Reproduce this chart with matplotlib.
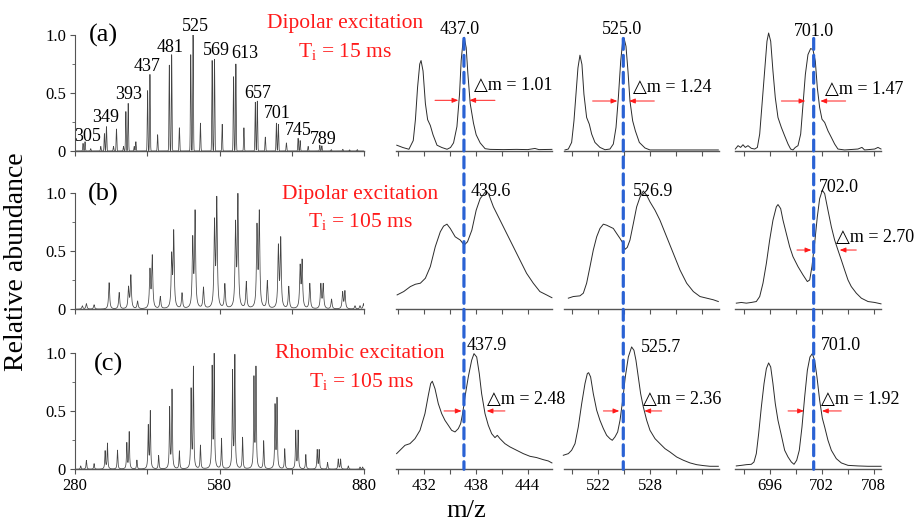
import numpy as np
import matplotlib
matplotlib.use("Agg")
import matplotlib.pyplot as plt
from matplotlib.patches import ConnectionPatch

plt.rcParams["font.family"] = ["Liberation Serif", "DejaVu Sans"]
plt.rcParams["mathtext.fontset"] = "custom"
plt.rcParams["mathtext.rm"] = "Liberation Serif"
plt.rcParams["mathtext.it"] = "Liberation Serif:italic"

W, H = 920, 522

# ---- full spectra: peak m/z and relative height ----
peaks_a_mz = [296.7, 300.8, 312.6, 333.5, 341.1, 345.3, 359.9, 366.1, 380.7, 385.6,
              390.4, 402.9, 406.4, 430.7, 435.6, 451.5, 475.8, 480.7, 496.7, 520.3,
              525.1, 540.4, 564.7, 569.6, 585.6, 609.2, 614.0, 630.7, 654.3, 658.5,
              675.1, 698.1, 702.2, 718.9, 743.2, 747.4, 764.0, 788.3, 792.5, 812.0,
              836.0, 850.0, 866.0]
peaks_a_h = [0.066, 0.08, 0.02, 0.04, 0.15, 0.21, 0.04, 0.19, 0.04, 0.34,
             0.41, 0.04, 0.08, 0.52, 0.66, 0.14, 0.74, 0.83, 0.2, 0.83,
             1.0, 0.24, 0.78, 0.79, 0.23, 0.64, 0.75, 0.2, 0.42, 0.43,
             0.12, 0.24, 0.23, 0.07, 0.11, 0.09, 0.04, 0.05, 0.045, 0.012,
             0.015, 0.01, 0.012]
peaks_b_mz = [295.3, 303.6, 319.6, 350.8, 371.7, 391.1, 396.0, 409.9, 435.6, 440.4,
              457.1, 480.7, 484.9, 502.2, 524.4, 529.3, 546.7, 569.6, 574.4, 591.1,
              613.3, 618.2, 635.6, 657.8, 662.6, 679.3, 702.2, 707.1, 723.8, 747.4,
              751.5, 767.5, 790.4, 795.3, 812.6, 835.6, 840.4, 861.3, 871.7, 879.0]
peaks_b_h = [0.03, 0.05, 0.04, 0.24, 0.15, 0.19, 0.3, 0.07, 0.34, 0.47,
             0.11, 0.46, 0.68, 0.14, 0.61, 0.86, 0.19, 0.76, 0.97, 0.22,
             0.74, 1.0, 0.24, 0.72, 0.85, 0.25, 0.55, 0.62, 0.2, 0.37,
             0.42, 0.23, 0.22, 0.22, 0.09, 0.15, 0.16, 0.03, 0.03, 0.05]
peaks_c_mz = [291.8, 303.6, 319.6, 342.5, 347.4, 368.2, 387.6, 392.5, 408.5, 432.1,
              436.3, 453.6, 476.5, 481.4, 496.7, 521.0, 525.8, 540.4, 564.7, 568.9,
              584.2, 607.1, 611.9, 627.9, 651.5, 655.7, 671.7, 695.3, 699.4, 715.4,
              738.3, 743.2, 759.2, 782.8, 786.9, 804.3, 826.5, 831.4, 847.4, 871.7,
              877.2]
peaks_c_h = [0.03, 0.08, 0.05, 0.16, 0.23, 0.17, 0.23, 0.33, 0.08, 0.38,
             0.51, 0.12, 0.54, 0.7, 0.16, 0.7, 0.9, 0.21, 0.89, 1.0,
             0.27, 0.86, 1.0, 0.28, 0.8, 0.89, 0.25, 0.56, 0.62, 0.18,
             0.34, 0.34, 0.13, 0.17, 0.17, 0.06, 0.09, 0.09, 0.03, 0.02,
             0.02]

# peak labels on spectrum (a)
series_labels = ["305", "349", "393", "437", "481", "525", "569", "613", "657", "701", "745", "789"]
series_label_x = [307, 344.6, 390.4, 430, 478, 530, 573.7, 632, 659, 700.8, 744.6, 794.6]
series_label_y = [0.129, 0.291, 0.488, 0.728, 0.891, 1.071, 0.865, 0.84, 0.497, 0.326, 0.18, 0.103]

# ---- zoomed traces (rows a, b, c; columns 437, 525, 701) ----
a1_mz = [428.9, 429.6, 430.3, 430.8, 431.05, 431.3, 431.55, 431.7, 431.93, 432.2,
         432.46, 432.77, 433.08, 433.54, 434.1, 434.7, 435.1, 435.45, 435.84, 436.14,
         436.33, 436.55, 436.68, 436.91, 437.1, 437.37, 437.75, 438.06, 438.52, 439.09,
         439.67, 441.2, 442.7, 444.0, 444.84, 445.3, 446.8]
a1_y = [0.05, 0.03, 0.015, 0.09, 0.27, 0.55, 0.75, 0.78, 0.69, 0.41,
        0.27, 0.22, 0.14, 0.05, 0.03, 0.015, 0.03, 0.07, 0.21, 0.49,
        0.78, 0.95, 0.98, 0.89, 0.67, 0.41, 0.24, 0.14, 0.07, 0.02,
        0.014, 0.012, 0.014, 0.012, 0.022, 0.012, 0.014]
b1_mz = [428.94, 429.7, 430.47, 431.05, 431.62, 432.2, 432.77, 433.34, 433.92, 434.3,
         434.69, 435.07, 435.64, 436.22, 436.68, 437.06, 437.56, 438.06, 438.52, 439.21,
         439.48, 440.05, 440.82, 441.58, 442.35, 443.11, 443.88, 444.65, 445.41, 446.18,
         446.8]
b1_y = [0.124, 0.153, 0.196, 0.216, 0.225, 0.268, 0.368, 0.539, 0.668, 0.717,
        0.734, 0.697, 0.625, 0.597, 0.554, 0.582, 0.682, 0.854, 0.954, 1.02,
        0.997, 0.883, 0.768, 0.654, 0.539, 0.425, 0.31, 0.225, 0.153, 0.124,
        0.1]
c1_mz = [428.88, 429.27, 429.85, 430.42, 431.0, 431.58, 432.15, 432.54, 432.81, 433.0,
         433.31, 433.69, 434.08, 434.46, 434.85, 435.23, 435.62, 436.0, 436.27, 436.5,
         436.77, 437.15, 437.54, 437.81, 438.12, 438.42, 438.69, 439.08, 439.46, 439.85,
         440.23, 440.5, 440.81, 441.38, 441.96, 442.73, 443.5, 444.27, 445.04, 445.81,
         446.38, 446.8]
c1_y = [0.135, 0.164, 0.207, 0.221, 0.264, 0.336, 0.48, 0.638, 0.739, 0.759,
        0.695, 0.566, 0.48, 0.422, 0.379, 0.336, 0.322, 0.351, 0.394, 0.48,
        0.624, 0.796, 0.94, 0.997, 0.968, 0.825, 0.652, 0.48, 0.379, 0.307,
        0.273, 0.293, 0.264, 0.221, 0.193, 0.164, 0.135, 0.112, 0.101, 0.083,
        0.072, 0.055]
a2_mz = [518.19, 518.58, 518.96, 519.23, 519.46, 519.69, 519.92, 520.15, 520.38, 520.69,
         521.0, 521.27, 521.65, 522.23, 522.81, 523.38, 523.77, 524.08, 524.35, 524.62,
         524.85, 525.0, 525.23, 525.46, 525.69, 526.0, 526.31, 526.77, 527.42, 528.0,
         529.92, 531.85, 535.88]
a2_y = [0.009, 0.017, 0.074, 0.26, 0.489, 0.717, 0.826, 0.746, 0.489, 0.289,
        0.231, 0.146, 0.074, 0.031, 0.011, 0.017, 0.06, 0.203, 0.46, 0.774,
        0.946, 0.974, 0.903, 0.689, 0.431, 0.26, 0.174, 0.074, 0.026, 0.009,
        0.009, 0.009, 0.009]
b2_mz = [518.58, 519.15, 519.92, 520.31, 520.69, 521.08, 521.46, 521.85, 522.23, 522.62,
         523.0, 523.38, 523.77, 524.15, 524.54, 524.85, 525.12, 525.38, 525.69, 526.08,
         526.46, 526.85, 527.23, 527.62, 528.0, 528.58, 529.15, 529.92, 530.69, 531.46,
         532.23, 533.0, 533.77, 534.54, 535.31, 535.88]
b2_y = [0.096, 0.11, 0.116, 0.139, 0.225, 0.368, 0.511, 0.625, 0.697, 0.734,
        0.725, 0.711, 0.697, 0.654, 0.611, 0.574, 0.517, 0.534, 0.597, 0.74,
        0.883, 0.968, 1.02, 0.983, 0.926, 0.854, 0.768, 0.625, 0.482, 0.339,
        0.225, 0.153, 0.11, 0.096, 0.082, 0.067]
c2_mz = [518.0, 518.58, 518.96, 519.35, 519.73, 520.12, 520.5, 520.77, 520.92, 521.15,
         521.46, 521.85, 522.23, 522.62, 523.0, 523.38, 523.65, 523.96, 524.27, 524.54,
         524.85, 525.15, 525.5, 525.88, 526.15, 526.38, 526.65, 526.92, 527.23, 527.62,
         528.0, 528.58, 529.15, 529.73, 530.31, 531.08, 531.85, 532.62, 533.38, 534.15,
         534.92, 535.88]
c2_y = [0.121, 0.135, 0.164, 0.221, 0.365, 0.566, 0.739, 0.825, 0.833, 0.796,
        0.652, 0.509, 0.422, 0.351, 0.293, 0.264, 0.25, 0.279, 0.322, 0.422,
        0.595, 0.796, 0.968, 1.055, 1.026, 0.94, 0.796, 0.652, 0.537, 0.422,
        0.336, 0.264, 0.221, 0.178, 0.149, 0.106, 0.078, 0.055, 0.04, 0.032,
        0.026, 0.026]
a3_mz = [692.04, 692.35, 692.65, 692.92, 693.19, 693.5, 693.88, 694.27, 694.58, 694.85,
         695.12, 695.42, 695.69, 695.88, 696.12, 696.38, 696.65, 696.96, 697.35, 697.73,
         698.12, 698.42, 698.69, 698.96, 699.27, 699.58, 699.85, 700.12, 700.42, 700.73,
         701.0, 701.27, 701.5, 701.77, 702.04, 702.35, 702.73, 703.12, 703.5, 703.88,
         704.65, 706.19, 706.65, 706.96, 708.12, 708.5, 708.85]
a3_y = [0.017, 0.046, 0.031, 0.054, 0.031, 0.046, 0.023, 0.017, 0.031, 0.146,
        0.403, 0.689, 0.946, 1.017, 0.946, 0.689, 0.46, 0.289, 0.203, 0.131,
        0.06, 0.017, 0.009, 0.031, 0.046, 0.146, 0.403, 0.66, 0.831, 0.883,
        0.874, 0.774, 0.546, 0.374, 0.274, 0.246, 0.174, 0.117, 0.06, 0.017,
        0.009, 0.017, 0.031, 0.009, 0.017, 0.031, 0.017]
b3_mz = [692.15, 692.73, 693.31, 693.88, 694.46, 694.85, 695.23, 695.62, 696.0, 696.38,
         696.77, 696.96, 697.27, 697.54, 697.92, 698.31, 698.69, 699.27, 699.85, 700.35,
         700.62, 700.88, 701.19, 701.5, 701.77, 702.08, 702.35, 702.73, 703.12, 703.5,
         703.88, 704.27, 704.65, 705.04, 705.42, 706.0, 706.58, 707.35, 708.12, 708.85]
b3_y = [0.053, 0.059, 0.053, 0.059, 0.067, 0.11, 0.225, 0.396, 0.597, 0.768,
        0.883, 0.903, 0.868, 0.768, 0.654, 0.539, 0.454, 0.368, 0.296, 0.239,
        0.253, 0.368, 0.568, 0.797, 0.954, 1.026, 0.997, 0.854, 0.711, 0.597,
        0.511, 0.425, 0.339, 0.253, 0.196, 0.139, 0.096, 0.067, 0.059, 0.047]
c3_mz = [692.15, 692.73, 693.31, 693.88, 694.19, 694.46, 694.73, 695.04, 695.35, 695.62,
         695.88, 696.12, 696.38, 696.65, 696.96, 697.35, 697.73, 698.12, 698.5, 698.81,
         699.12, 699.42, 699.73, 700.04, 700.35, 700.65, 700.92, 701.19, 701.46, 701.77,
         702.08, 702.35, 702.73, 703.12, 703.69, 704.27, 705.04, 706.19, 707.35, 708.85]
c3_y = [0.029, 0.034, 0.04, 0.043, 0.063, 0.135, 0.307, 0.537, 0.739, 0.868,
        0.917, 0.882, 0.739, 0.566, 0.422, 0.293, 0.164, 0.106, 0.063, 0.043,
        0.078, 0.164, 0.365, 0.624, 0.853, 0.968, 0.997, 0.94, 0.796, 0.595,
        0.44, 0.365, 0.25, 0.164, 0.092, 0.055, 0.034, 0.029, 0.026, 0.026]

peak_tops = [["437.0", "525.0", "701.0"],
             ["439.6", "526.9", "702.0"],
             ["437.9", "525.7", "701.0"]]
dashed_mz = [436.65, 524.92, 701.08]

# FWHM arrows: (row, col, height, left tail, left tip, right tip, right tail, delta m)
fwhm = [(0, 0, 0.437, 433.31, 436.0, 437.27, 440.23, "1.01"),
        (0, 1, 0.431, 521.38, 524.23, 525.58, 528.5, "1.24"),
        (0, 2, 0.431, 697.35, 700.12, 701.85, 704.77, "1.47"),
        (1, 2, 0.511, 699.15, 700.81, 704.08, 706.0, "2.70"),
        (2, 0, 0.503, 434.35, 436.38, 439.27, 441.38, "2.48"),
        (2, 1, 0.503, 522.62, 524.46, 527.35, 529.35, "2.36"),
        (2, 2, 0.503, 698.12, 699.96, 702.04, 704.27, "1.92")]

panel_tags = ["(a)", "(b)", "(c)"]
mode_names = ["Dipolar excitation", "Dipolar excitation", "Rhombic excitation"]
times = ["15 ms", "105 ms", "105 ms"]

# ---- layout (pixels) ----
row_base = [151, 309.3, 469.3]
row_h = 116
col_px = [(75, 364), (396, 552), (564, 719), (735, 881)]
zoom_xlim = [(428.81, 446.81), (518.08, 535.96), (692.0, 708.85)]
zoom_ticks = [np.arange(429, 447, 3), np.arange(519, 535, 3), np.arange(693, 709, 3)]
zoom_ticklabels = [[432, 438, 444], [522, 528], [696, 702, 708]]
tag_xy = [(103, 35), (103, 194), (109, 364)]
mode_xy = [(345, 24), (360, 195), (360, 354)]
time_xy = [(345, 52), (360, 222), (361, 381)]
top_xy = [[(460, 29), (622, 29), (814, 32)],
          [(491, 192), (653, 192), (839, 187)],
          [(487, 345), (661, 347), (841, 345)]]
dm_xy = {(0, 0): (474, 85), (0, 1): (633, 88), (0, 2): (825, 90), (1, 2): (836, 237),
         (2, 0): (487, 400), (2, 1): (643, 400), (2, 2): (821, 400)}

AX_COL = "#555555"
RED = "#ff1a1a"
BLUE = "#2a62d4"


def px(x, y):
    return x / W, 1 - y / H


def spectrum(mz, h, width, lorentz):
    grid = np.linspace(280, 880, 6001)
    y = np.zeros_like(grid)
    for m, a in zip(mz, h):
        if lorentz:
            y += a / (1 + ((grid - m) / width) ** 2)
        else:
            y += a * np.exp(-0.5 * ((grid - m) / width) ** 2)
    return grid, y / y.max()


fig = plt.figure(figsize=(W / 100, H / 100), dpi=100)

spectra = [spectrum(peaks_a_mz, peaks_a_h, 0.7, False),
           spectrum(peaks_b_mz, peaks_b_h, 1.3, True),
           spectrum(peaks_c_mz, peaks_c_h, 0.85, True)]
zoom_traces = [[(a1_mz, a1_y), (a2_mz, a2_y), (a3_mz, a3_y)],
               [(b1_mz, b1_y), (b2_mz, b2_y), (b3_mz, b3_y)],
               [(c1_mz, c1_y), (c2_mz, c2_y), (c3_mz, c3_y)]]

axes = []
for r in range(3):
    row_axes = []
    for c in range(4):
        x0, x1 = col_px[c]
        ax = fig.add_axes([x0 / W, 1 - row_base[r] / H, (x1 - x0) / W, row_h / H])
        ax.set_ylim(0, 1)
        ax.patch.set_alpha(0)
        for s in ["top", "right"]:
            ax.spines[s].set_visible(False)
        ax.spines["bottom"].set_color(AX_COL)
        ax.spines["left"].set_color(AX_COL)
        ax.spines["bottom"].set_linewidth(1.0)
        ax.tick_params(colors=AX_COL, labelcolor="black", labelsize=12,
                       direction="out", length=3.5, width=0.8, pad=3)
        if c == 0:
            g, y = spectra[r]
            ax.plot(g, y, color="#444444", lw=0.55)
            ax.set_xlim(280, 880)
            ax.set_xticks([280, 430, 580, 730, 880])
            ax.set_xticklabels(["280", "", "580", "", "880"] if r == 2 else [""] * 5)
            ax.set_yticks([0, 0.5, 1.0])
            ax.set_yticks([0.25, 0.75], minor=True)
            ax.set_yticklabels(["0", "0.5", "1.0"])
            ax.tick_params(axis="y", which="minor", length=2.5, colors=AX_COL)
        else:
            mz, yy = zoom_traces[r][c - 1]
            ax.plot(mz, yy, color="#2b2b2b", lw=0.7, clip_on=False)
            ax.set_xlim(*zoom_xlim[c - 1])
            ax.spines["left"].set_visible(False)
            ax.set_yticks([])
            ticks = zoom_ticks[c - 1]
            ax.set_xticks(ticks)
            if r == 2:
                ax.set_xticklabels([str(t) if t in zoom_ticklabels[c - 1] else "" for t in ticks])
            else:
                ax.set_xticklabels([""] * len(ticks))
        row_axes.append(ax)
    axes.append(row_axes)

# labels over the spectrum (a) series
for lab, lx, ly in zip(series_labels, series_label_x, series_label_y):
    axes[0][0].text(lx, ly, lab, ha="center", va="center", fontsize=13, clip_on=False)

# blue dashed guide lines through the three rows
for c in range(3):
    con = ConnectionPatch(xyA=(dashed_mz[c], 0.97), coordsA=axes[0][c + 1].transData,
                          xyB=(dashed_mz[c], 0.0), coordsB=axes[2][c + 1].transData,
                          color=BLUE, lw=2.3, linestyle=(0, (3.4, 1.9)), zorder=5)
    fig.add_artist(con)

# FWHM arrows and delta-m labels
for r, c, yv, l0, l1, r1, r0, dm in fwhm:
    ax = axes[r][c + 1]
    kw = dict(arrowstyle="-|>,head_length=0.45,head_width=0.18", color=RED, lw=0.7,
              shrinkA=0, shrinkB=0, mutation_scale=8)
    ax.annotate("", xy=(l1, yv), xytext=(l0, yv), arrowprops=kw, annotation_clip=False)
    ax.annotate("", xy=(r1, yv), xytext=(r0, yv), arrowprops=kw, annotation_clip=False)
    tx, ty = dm_xy[(r, c)]
    fig.text(*px(tx, ty), "\u25b3m = " + dm, ha="left", va="center", fontsize=13,
             family=["Liberation Serif", "DejaVu Sans"])

for r in range(3):
    fig.text(*px(*tag_xy[r]), panel_tags[r], ha="center", va="center", fontsize=19)
    fig.text(*px(*mode_xy[r]), mode_names[r], ha="center", va="center",
             fontsize=15.5, color=RED)
    fig.text(*px(*time_xy[r]), "T$_\\mathrm{i}$ = " + times[r], ha="center", va="center",
             fontsize=15.5, color=RED)
    for c in range(3):
        fig.text(*px(*top_xy[r][c]), peak_tops[r][c], ha="center", va="center", fontsize=13)

fig.text(*px(17, 262), "Relative abundance", rotation=90, ha="center", va="center", fontsize=20)
fig.text(*px(466, 511), "m/z", ha="center", va="center", fontsize=19)

fig.savefig("out.png", dpi=100)
